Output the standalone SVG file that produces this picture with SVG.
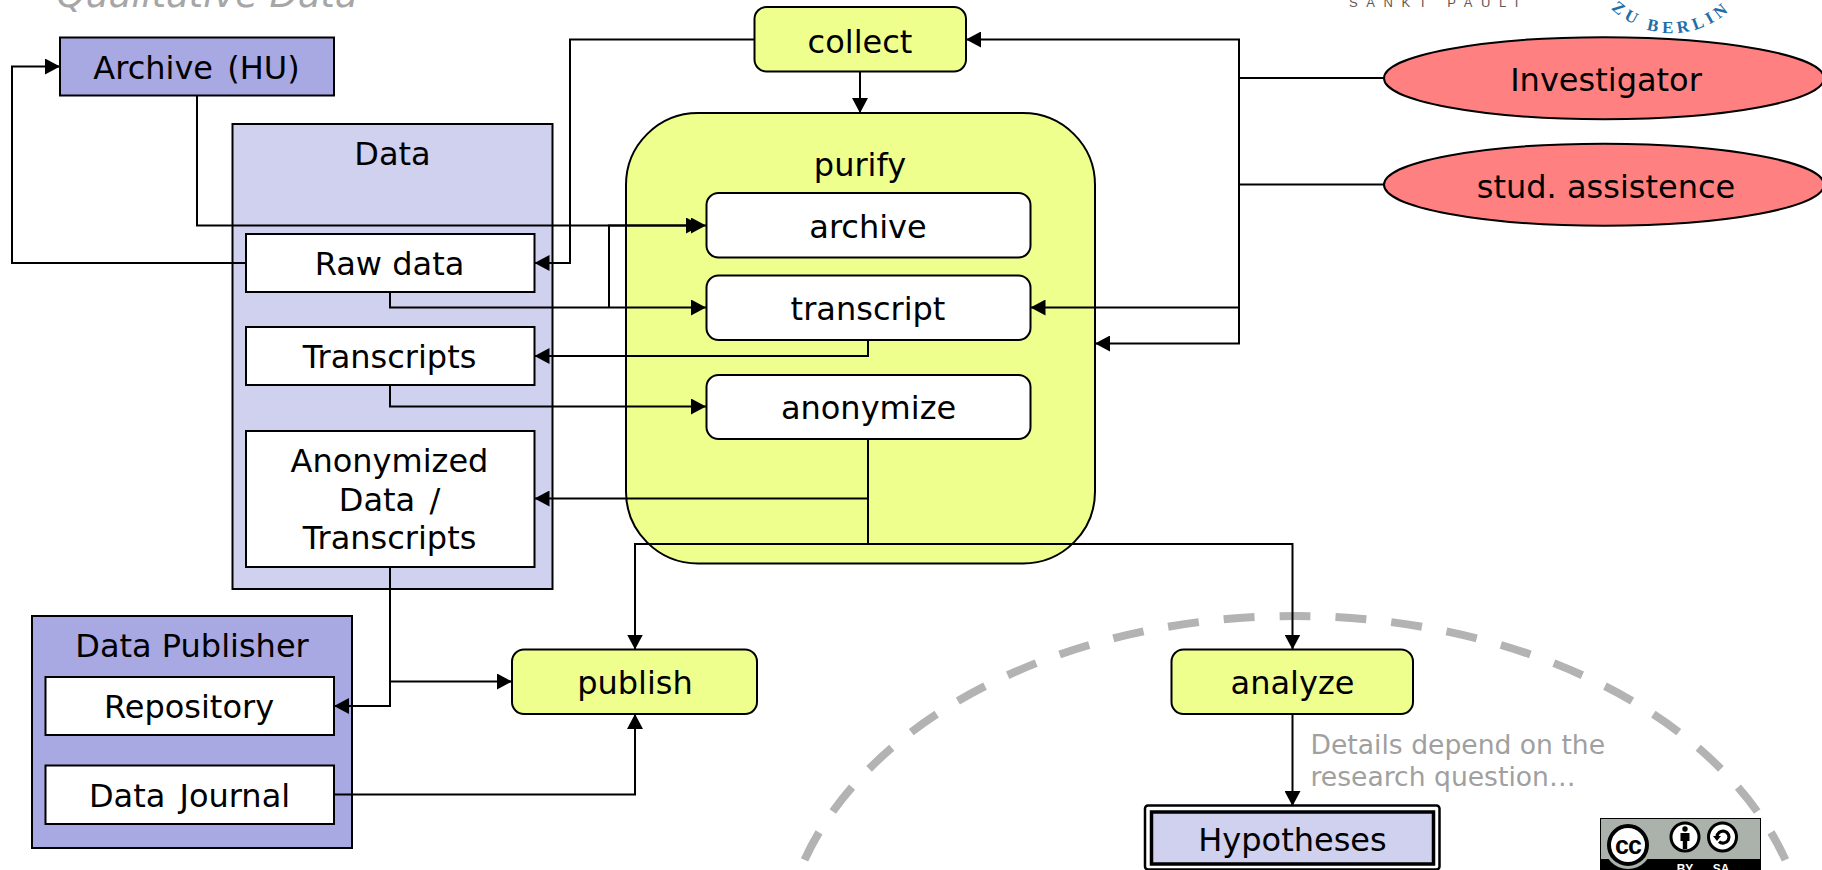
<svg xmlns="http://www.w3.org/2000/svg" width="1822" height="870" viewBox="0 0 1822 870">
<style>
text{font-family:"DejaVu Sans",Verdana,sans-serif;font-size:32px;fill:#000;text-anchor:middle}
.b{stroke:#000;stroke-width:2}
.y{fill:#eeff8e}.l{fill:#d0d1ef}.d{fill:#a8a8e2}.w{fill:#fff}.r{fill:#ff8080}
.c{fill:none;stroke:#000;stroke-width:2;marker-end:url(#a)}
.n{fill:none;stroke:#000;stroke-width:2}
.g{fill:none;stroke:#b3b3b3;stroke-width:8;stroke-dasharray:31 25;stroke-dashoffset:15.5}
.ws{word-spacing:4px}
</style>
<defs>
<marker id="a" markerUnits="userSpaceOnUse" markerWidth="16" markerHeight="16" refX="15" refY="8" orient="auto"><path d="M0 0L15 8L0 16Z" fill="#000"/></marker>
</defs>
<rect width="1822" height="870" fill="#fff"/>
<g id="title"><text x="207" y="7" style="font-size:36.8px;font-style:italic;fill:#a6a6a6">Qualitative Data</text></g>
<g id="logos">
<text x="1438" y="7" style="font-family:'Liberation Sans',sans-serif;font-size:13px;letter-spacing:8.6px;fill:#5f5854">SANKT PAULI</text>
<path id="zb" d="M1600.6 -3.9A86.5 86.5 0 0 0 1742.4 -3.9" fill="none"/>
<text style="font-family:'Liberation Serif',serif;font-size:17px;font-weight:bold;letter-spacing:4.5px;fill:#1f6ea8"><textPath href="#zb" startOffset="50%">ZU BERLIN</textPath></text>
</g>
<g id="scope"><path class="g" d="M1295 616A513 346 0 0 0 790 900"/><path class="g" d="M1295 616A513 346 0 0 1 1800 900"/></g>
<g id="archive-hu"><rect class="b d" x="60" y="37.5" width="274" height="58"/><text class="ws" x="196.5" y="79">Archive (HU)</text></g>
<g id="data"><rect class="b l" x="232.5" y="124" width="320" height="465"/><text x="392.5" y="165">Data</text></g>
<g id="raw-data"><rect class="b w" x="246" y="234" width="288.5" height="58"/><text x="389.5" y="274.5">Raw data</text></g>
<g id="transcripts"><rect class="b w" x="246" y="327" width="288.5" height="58"/><text x="389.5" y="368">Transcripts</text></g>
<g id="anonymized"><rect class="b w" x="246" y="431" width="288.5" height="136"/><text x="389.5" y="472">Anonymized</text><text class="ws" x="389.5" y="510.5">Data /</text><text x="389.5" y="549">Transcripts</text></g>
<g id="publisher"><rect class="b d" x="32" y="616" width="320" height="232"/><text x="192" y="657">Data Publisher</text></g>
<g id="repository"><rect class="b w" x="45.5" y="677" width="288.5" height="58"/><text x="189" y="718">Repository</text></g>
<g id="journal"><rect class="b w" x="45.5" y="765.5" width="288.5" height="58.5"/><text class="ws" x="189.5" y="807">Data Journal</text></g>
<g id="collect"><rect class="b y" x="754.5" y="7" width="211.5" height="64.5" rx="12"/><text x="860" y="52.5">collect</text></g>
<g id="purify"><rect class="b y" x="626" y="113" width="469" height="450.5" rx="72"/><text x="860" y="176">purify</text></g>
<g id="archive"><rect class="b w" x="706.5" y="193" width="324" height="64.5" rx="12"/><text x="868" y="238">archive</text></g>
<g id="transcript"><rect class="b w" x="706.5" y="275.5" width="324" height="64.5" rx="12"/><text x="868" y="320">transcript</text></g>
<g id="anonymize"><rect class="b w" x="706.5" y="375" width="324" height="64" rx="12"/><text x="868.5" y="419">anonymize</text></g>
<g id="publish"><rect class="b y" x="512" y="649.5" width="245" height="64.5" rx="12"/><text x="635" y="694">publish</text></g>
<g id="analyze"><rect class="b y" x="1171.5" y="649.5" width="241.5" height="64.5" rx="12"/><text x="1292.5" y="694">analyze</text></g>
<g id="hypotheses"><rect x="1145" y="805.5" width="294.5" height="64" rx="3" fill="#fff" stroke="#000" stroke-width="2.5"/><rect class="l" x="1151.5" y="812" width="282" height="52" stroke="#000" stroke-width="3.5"/><text x="1292.5" y="850.5">Hypotheses</text></g>
<g id="investigator"><ellipse class="b r" cx="1604" cy="78.2" rx="220" ry="41"/><text x="1606" y="91">Investigator</text></g>
<g id="assistence"><ellipse class="b r" cx="1604" cy="184.7" rx="220" ry="41"/><text x="1606" y="197.5">stud. assistence</text></g>
<g id="note"><text x="1310.5" y="754" style="font-size:26.6px;fill:#a0a0a0;text-anchor:start">Details depend on the</text><text x="1310.5" y="786" style="font-size:26.6px;fill:#a0a0a0;text-anchor:start">research question…</text></g>
<g id="cc-badge">
<rect x="1600.5" y="818.5" width="160" height="41" fill="#aab2ab" stroke="#000" stroke-width="1"/>
<rect x="1600" y="859" width="161" height="11" fill="#000"/>
<circle cx="1628" cy="845" r="24" fill="#aab2ab"/>
<circle cx="1628" cy="845" r="19" fill="#fff" stroke="#000" stroke-width="4"/>
<text x="1628" y="853.5" style="font-family:'Liberation Sans',sans-serif;font-weight:bold;font-size:25px;letter-spacing:-1px">cc</text>
<circle cx="1685" cy="837" r="14" fill="#fff" stroke="#000" stroke-width="3"/>
<circle cx="1685" cy="829" r="2.7" fill="#000"/><path d="M1680.5 833h9v8h-2.3v8h-4.4v-8h-2.3z" fill="#000"/>
<circle cx="1722.5" cy="837" r="14" fill="#fff" stroke="#000" stroke-width="3"/>
<path d="M1717 837a6 6 0 1 1 2 4.6" fill="none" stroke="#000" stroke-width="3.2"/><path d="M1713 836h8l-4 5z" fill="#000"/>
<text x="1685" y="873" style="font-family:'Liberation Sans',sans-serif;font-weight:bold;font-size:12px;fill:#fff">BY</text>
<text x="1721" y="873" style="font-family:'Liberation Sans',sans-serif;font-weight:bold;font-size:12px;fill:#fff">SA</text>
</g>
<g id="connectors">
<path class="c" d="M246 263H12V66.5H60"/>
<path class="c" d="M197 95.5V225.5H706"/>
<path class="c" d="M754.5 39.5H570V263H534.5"/>
<path class="c" d="M390 292V307.5H706"/>
<path class="c" d="M609 307.5V225.5H701"/>
<path class="c" d="M868 340V356H534.5"/>
<path class="c" d="M390 385V406.5H706"/>
<path class="c" d="M868 439V498.5H534.5"/>
<path class="n" d="M868 498.5V544"/>
<path class="c" d="M868 544H635V649.5"/>
<path class="c" d="M868 544H1292.5V649.5"/>
<path class="c" d="M390 567V706H334"/>
<path class="c" d="M390 681.5H512"/>
<path class="c" d="M334 794.5H635V714"/>
<path class="c" d="M860 71.5V113"/>
<path class="c" d="M1292.5 714V806"/>
<path class="c" d="M1384 78H1239V39.5H966"/>
<path class="n" d="M1384 184.5H1239"/>
<path class="c" d="M1239 78V307.5H1030.5"/>
<path class="c" d="M1239 307.5V343.5H1095"/>
</g>
</svg>
